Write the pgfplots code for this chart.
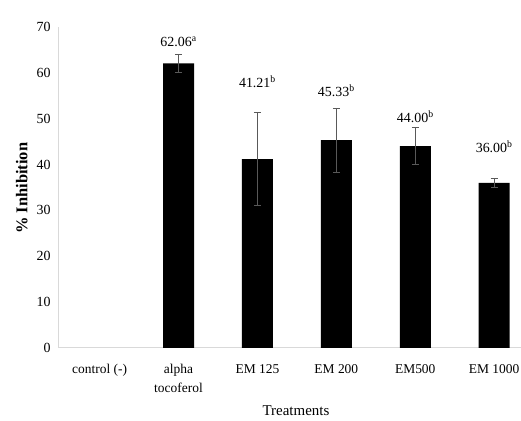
\documentclass[border=0pt]{standalone}
\usepackage{pgfplots}
\pgfplotsset{compat=1.18}
\usepackage{fontspec}
\setmainfont{Liberation Serif}
\definecolor{axgray}{HTML}{D9D9D9}
\definecolor{errgray}{HTML}{595959}
\begin{document}
\begin{tikzpicture}
\begin{axis}[
  scale only axis, width=463bp, height=321bp,
  xmin=-0.527, xmax=5.34, ymin=0, ymax=70,
  ybar, bar width=31bp,
  xtick={0,...,5},
  xticklabels={control (-), {alpha\\tocoferol}, EM 125, EM 200, EM500, EM 1000},
  xticklabel style={align=center, font=\fontsize{13.5}{19}\selectfont, yshift=-13bp},
  ytick={0,10,...,70},
  axis x line*=bottom, axis y line*=left,
  axis line style={draw=axgray, line width=1pt},
  major tick length=0pt,
  /pgf/number format/assume math mode=true,
  yticklabel style={font=\fontsize{14}{16}\selectfont, xshift=-4bp},
  xlabel={Treatments},
  ylabel={\% Inhibition},
  xlabel style={font=\fontsize{15}{18}\selectfont, at={(axis description cs:0.514,0)}, anchor=center, yshift=-63bp},
  ylabel style={font=\fontsize{16.5}{18}\selectfont\bfseries, at={(axis description cs:-0.078,0.498)}, anchor=center},
  clip=false,
]
\addplot+[fill=black, draw=none,
  error bars/.cd, y dir=both, y explicit,
  error bar style={errgray, line width=1pt},
  error mark options={rotate=90, mark size=3.5pt, errgray, line width=1pt}]
  table[x=x, y=y, y error=e] {
x y e
1 62.06 2.0
2 41.21 10.1
3 45.33 7.0
4 44.00 4.0
5 36.00 1.0
};
\begin{scope}[every node/.style={font=\fontsize{14}{16}\selectfont}]
\node at (axis cs:1,66.7) {62.06\textsuperscript{a}};
\node at (axis cs:2,58.0) {41.21\textsuperscript{b}};
\node at (axis cs:3,56.1) {45.33\textsuperscript{b}};
\node at (axis cs:4,50.4) {44.00\textsuperscript{b}};
\node at (axis cs:5,43.9) {36.00\textsuperscript{b}};
\end{scope}
\coordinate (bl) at (rel axis cs:0,0);
\coordinate (tr) at (rel axis cs:1,1);
\end{axis}
\pgfresetboundingbox
\path ([shift={(-58bp,-73bp)}]bl) rectangle ([shift={(0bp,27bp)}]tr);
\end{tikzpicture}
\end{document}
